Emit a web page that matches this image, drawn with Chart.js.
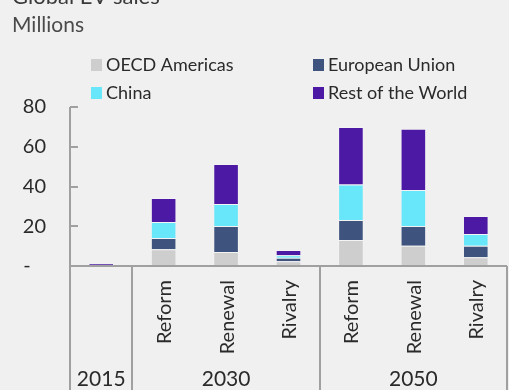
<!DOCTYPE html>
<html>
<head>
<meta charset="utf-8">
<script src="https://cdn.jsdelivr.net/npm/chart.js@4"></script>
<style>
  html, body { margin: 0; padding: 0; background: #f0f0f0; }
  #wrap { width: 509px; height: 390px; }
</style>
</head>
<body>
<div id="wrap"><canvas id="evChart"></canvas></div>
<script>
'use strict';

// scenario bars, grouped by year
let scenarios = ['2015', 'Reform', 'Renewal', 'Rivalry', 'Reform', 'Renewal', 'Rivalry'];
let yearLabels = ['2015', '2030', '2050'];
let yearSpans = [1, 3, 3];

// EV sales in millions
let oecdAmericas = [0.1, 8.4, 7.0, 2.4, 13.1, 10.2, 4.4];
let europeanUnion = [0.1, 5.7, 13.1, 1.8, 10.0, 9.9, 5.8];
let china = [0.1, 8.0, 11.1, 1.2, 17.9, 18.1, 5.9];
let restOfWorld = [1.1, 12.1, 20.1, 2.6, 29.0, 30.8, 9.0];

let yTicks = [0, 20, 40, 60, 80];

let fontFamily = 'Lato, "Open Sans", sans-serif';
let lineColor = '#a0a0a0';

function makeSet(label, data, color) {
  return {
    label: label,
    data: data,
    backgroundColor: color,
    borderColor: 'rgba(255, 255, 255, 0.2)',
    borderWidth: 1,
    barPercentage: 0.41,
    categoryPercentage: 1
  };
}

// title, legend, axis lines and the two-level category labels
let decorPlugin = {
  id: 'decor',
  afterDraw(chart) {
    let ctx = chart.ctx;
    let area = chart.chartArea;
    let x = chart.scales.x;
    let y = chart.scales.y;
    ctx.save();

    ctx.fillStyle = '#3a3a3a';
    ctx.textBaseline = 'alphabetic';
    ctx.textAlign = 'left';
    ctx.font = '22px ' + fontFamily;
    ctx.fillText('Global EV sales', 12, 4);
    ctx.fillStyle = '#4a4a4a';
    ctx.font = '21px ' + fontFamily;
    ctx.fillText('Millions', 12, 32);

    // legend in two columns
    let cols = [91, 313];
    let rows = [65, 93];
    ctx.font = '18px ' + fontFamily;
    ctx.textBaseline = 'middle';
    chart.data.datasets.forEach(function (ds, i) {
      let lx = cols[i % 2];
      let ly = rows[Math.floor(i / 2)];
      ctx.fillStyle = ds.backgroundColor;
      ctx.fillRect(lx, ly - 6, 11, 12);
      ctx.fillStyle = '#2a2a2a';
      ctx.fillText(ds.label, lx + 15, ly);
    });

    ctx.strokeStyle = lineColor;
    ctx.lineWidth = 2;
    let bottom = chart.height;

    // y axis with inward tick marks
    ctx.beginPath();
    ctx.moveTo(area.left, y.getPixelForValue(80));
    ctx.lineTo(area.left, bottom);
    yTicks.forEach(function (t) {
      if (t === 0) return;
      let py = Math.round(y.getPixelForValue(t));
      ctx.moveTo(area.left, py);
      ctx.lineTo(area.left + 8, py);
    });
    // x axis line
    let zeroY = Math.round(y.getPixelForValue(0));
    ctx.moveTo(area.left, zeroY);
    ctx.lineTo(area.right, zeroY);
    ctx.stroke();

    // year separators and labels
    let step = x.getPixelForValue(1) - x.getPixelForValue(0);
    let start = 0;
    ctx.font = '21px ' + fontFamily;
    ctx.textAlign = 'center';
    ctx.textBaseline = 'middle';
    yearLabels.forEach(function (yl, i) {
      let end = start + yearSpans[i] - 1;
      let x0 = x.getPixelForValue(start) - step / 2;
      let x1 = x.getPixelForValue(end) + step / 2;
      ctx.beginPath();
      ctx.moveTo(Math.round(x1), zeroY);
      ctx.lineTo(Math.round(x1), bottom);
      ctx.stroke();
      ctx.fillStyle = '#2a2a2a';
      ctx.fillText(yl, (x0 + x1) / 2, 379);
      start = end + 1;
    });

    // scenario labels, rotated
    ctx.font = '20px ' + fontFamily;
    ctx.textAlign = 'right';
    scenarios.forEach(function (s, i) {
      if (i === 0) return;
      ctx.save();
      ctx.translate(x.getPixelForValue(i), 280);
      ctx.rotate(-Math.PI / 2);
      ctx.fillStyle = '#2a2a2a';
      ctx.fillText(s, 0, 1);
      ctx.restore();
    });

    ctx.restore();
  }
};

let ctx = document.getElementById('evChart').getContext('2d');
let evChart = new Chart(ctx, {
  type: 'bar',
  data: {
    labels: scenarios,
    datasets: [
      makeSet('OECD Americas', oecdAmericas, '#cecece'),
      makeSet('European Union', europeanUnion, '#3e547e'),
      makeSet('China', china, '#69e7fa'),
      makeSet('Rest of the World', restOfWorld, '#4b19a4')
    ]
  },
  options: {
    responsive: true,
    maintainAspectRatio: false,
    animation: false,
    layout: {
      padding: { top: 107, right: 2, bottom: 124, left: 0 }
    },
    plugins: {
      legend: { display: false },
      tooltip: { enabled: false }
    },
    scales: {
      x: {
        display: false,
        stacked: true,
        offset: true
      },
      y: {
        stacked: true,
        min: 0,
        max: 80,
        afterFit: function (scale) { scale.width = 70; },
        border: { display: false },
        grid: { display: false, drawTicks: false },
        ticks: {
          stepSize: 20,
          padding: 24,
          color: '#2a2a2a',
          font: { family: fontFamily, size: 20 },
          callback: function (v) { return v === 0 ? '-   ' : v; }
        }
      }
    }
  },
  plugins: [decorPlugin]
});
</script>
</body>
</html>
